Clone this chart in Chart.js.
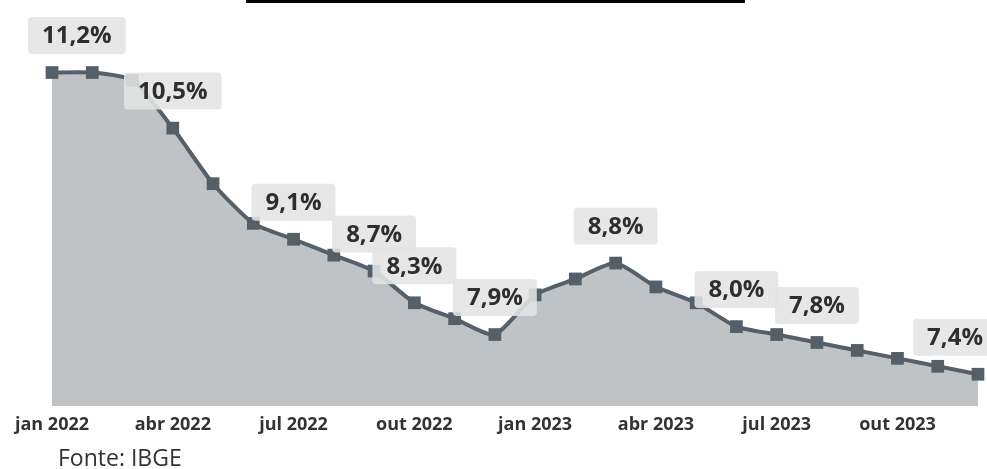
<!DOCTYPE html>
<html>
<head>
<meta charset="utf-8">
<script src="https://cdn.jsdelivr.net/npm/chart.js@4"></script>
<style>
    body { margin: 0; background: #fff; }
    #wrap { position: relative; width: 987px; height: 469px; }
    #topLine { position: absolute; left: 246px; top: 0; width: 499px; height: 3px; background: #000; }
    #fonte { position: absolute; left: 58px; top: 441px; font: 23px "Open Sans", sans-serif; color: #333; }
</style>
</head>
<body>
<div id="wrap">
    <canvas id="chart" width="987" height="469"></canvas>
    <div id="topLine"></div>
    <div id="fonte">Fonte: IBGE</div>
</div>
<script>
const months = [
    "jan 2022", "fev 2022", "mar 2022", "abr 2022", "mai 2022", "jun 2022",
    "jul 2022", "ago 2022", "set 2022", "out 2022", "nov 2022", "dez 2022",
    "jan 2023", "fev 2023", "mar 2023", "abr 2023", "mai 2023", "jun 2023",
    "jul 2023", "ago 2023", "set 2023", "out 2023", "nov 2023", "dez 2023"
];

const rates = [
    11.2, 11.2, 11.1, 10.5, 9.8, 9.3,
    9.1, 8.9, 8.7, 8.3, 8.1, 7.9,
    8.4, 8.6, 8.8, 8.5, 8.3, 8.0,
    7.9, 7.8, 7.7, 7.6, 7.5, 7.4
];

// months that get a value label
const labeledIdx = [0, 3, 6, 8, 9, 11, 14, 17, 19, 23];

/* VALUE LABELS */
const valueLabels = {
    id: "valueLabels",
    afterDatasetsDraw(chart) {
        const ctx = chart.ctx;
        const meta = chart.getDatasetMeta(0);
        const area = chart.chartArea;

        ctx.save();
        ctx.font = "bold 24px 'Open Sans', sans-serif";
        ctx.textAlign = "center";
        ctx.textBaseline = "middle";

        labeledIdx.forEach(i => {
            const pt = meta.data[i];
            const text = rates[i].toFixed(1).replace(".", ",") + "%";
            const w = ctx.measureText(text).width + 28;
            const h = 37;

            let left = pt.x - w / 2;
            if (left < area.left - 24) left = area.left - 24;
            if (left + w > area.right + 19) left = area.right + 19 - w;

            const cy = pt.y - 37;

            ctx.fillStyle = "rgba(228, 228, 228, 0.88)";
            ctx.beginPath();
            ctx.roundRect(left, cy - h / 2, w, h, 4);
            ctx.fill();

            ctx.fillStyle = "#2e2e2e";
            ctx.fillText(text, left + w / 2, cy + 1);
        });

        ctx.restore();
    }
};

new Chart(document.getElementById("chart"), {
    type: "line",
    data: {
        labels: months,
        datasets: [{
            data: rates,
            borderColor: "#56606a",
            borderWidth: 4,
            backgroundColor: "#bfc3c6",
            fill: "start",
            tension: 0.2,
            pointStyle: "rect",
            pointRadius: 9,
            pointBackgroundColor: "#545f68",
            pointBorderWidth: 0
        }]
    },
    options: {
        responsive: false,
        animation: false,
        layout: {
            padding: { left: 52, right: 9, top: 6, bottom: 33 }
        },
        plugins: {
            legend: { display: false },
            tooltip: { enabled: false }
        },
        scales: {
            x: {
                offset: false,
                grid: { display: false },
                border: { display: false },
                afterFit: s => { s.height = 30; },
                ticks: {
                    autoSkip: false,
                    maxRotation: 0,
                    padding: 0,
                    color: "#333",
                    font: { family: "'Open Sans', sans-serif", size: 18, weight: "bold" },
                    callback: (v, i) => i % 3 === 0 ? months[i] : ""
                }
            },
            y: {
                display: false,
                min: 7.0,
                max: 12.0
            }
        }
    },
    plugins: [valueLabels]
});
</script>
</body>
</html>
